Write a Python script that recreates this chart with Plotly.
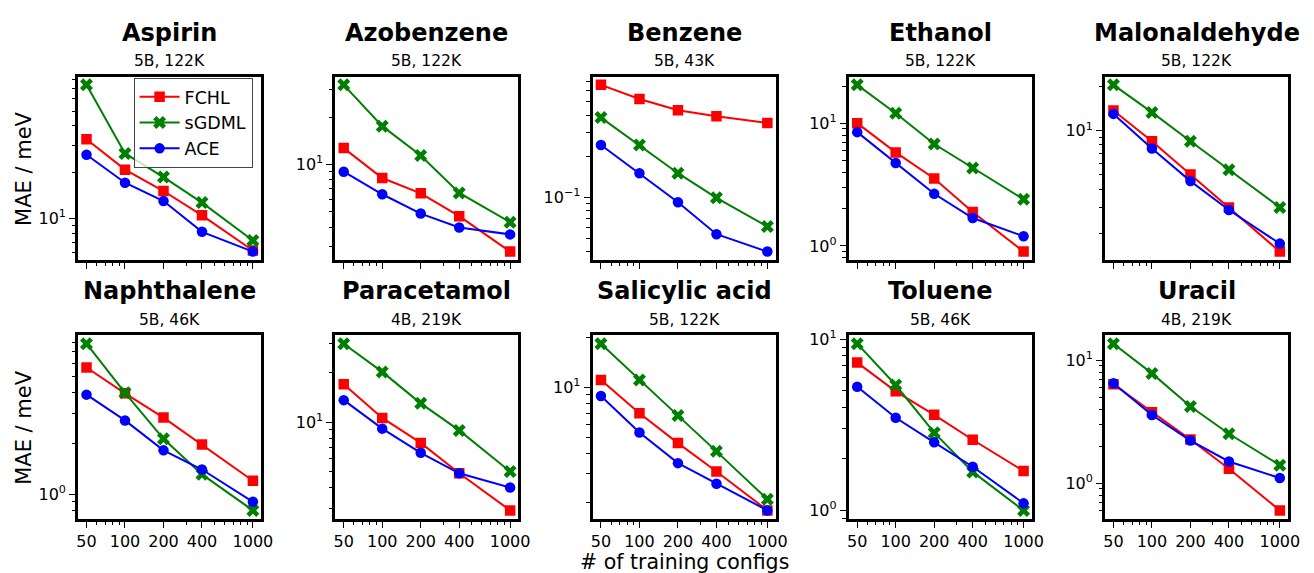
import numpy as np
import plotly.graph_objects as go

# ---------------- data ----------------
n_train = [50, 100, 200, 400, 1000]
x_tick_labels = ["50", "100", "200", "400", "1000"]

molecules = ["Aspirin", "Azobenzene", "Benzene", "Ethanol", "Malonaldehyde",
             "Naphthalene", "Paracetamol", "Salicylic acid", "Toluene", "Uracil"]
subtitles = ["5B, 122K", "5B, 122K", "5B, 43K", "5B, 122K", "5B, 122K",
             "5B, 46K", "4B, 219K", "5B, 122K", "5B, 46K", "4B, 219K"]

fchl_mae = [
    [32.8, 20.8, 15.1, 10.5, 6.2],
    [12.7, 8.2, 6.56, 4.7, 2.8],
    [0.665, 0.524, 0.433, 0.392, 0.35],
    [10.0, 5.78, 3.54, 1.89, 0.9],
    [13.7, 8.47, 5.03, 2.99, 1.5],
    [5.65, 3.97, 2.85, 1.97, 1.2],
    [17.0, 10.6, 7.47, 4.88, 2.9],
    [11.1, 6.97, 4.6, 3.1, 1.8],
    [7.32, 4.97, 3.62, 2.59, 1.7],
    [6.36, 3.76, 2.26, 1.31, 0.6],
]
sgdml_mae = [
    [74.0, 26.5, 18.6, 12.7, 7.2],
    [32.0, 17.5, 11.4, 6.6, 4.3],
    [0.383, 0.241, 0.150, 0.099, 0.061],
    [20.5, 12.05, 6.76, 4.32, 2.4],
    [20.5, 13.3, 8.47, 5.41, 3.0],
    [7.83, 4.0, 2.13, 1.31, 0.8],
    [30.0, 20.2, 13.0, 8.9, 5.0],
    [18.4, 11.1, 6.75, 4.1, 2.1],
    [9.44, 5.41, 2.85, 1.68, 1.0],
    [13.6, 7.8, 4.2, 2.52, 1.4],
]
ace_mae = [
    [26.0, 17.1, 13.0, 8.2, 6.1],
    [9.0, 6.47, 4.88, 3.98, 3.6],
    [0.241, 0.150, 0.092, 0.0536, 0.04],
    [8.45, 4.74, 2.66, 1.69, 1.2],
    [13.0, 7.55, 4.53, 2.88, 1.7],
    [3.90, 2.74, 1.82, 1.40, 0.9],
    [13.6, 9.12, 6.5, 4.88, 4.0],
    [8.87, 5.33, 3.48, 2.61, 1.8],
    [5.29, 3.48, 2.50, 1.80, 1.1],
    [6.48, 3.58, 2.22, 1.50, 1.1],
]

methods = ["FCHL", "sGDML", "ACE"]
method_data = [fchl_mae, sgdml_mae, ace_mae]
method_colors = ["#ff0000", "#008000", "#0000ff"]
method_symbols = ["square", "x", "circle"]

# ---------------- layout geometry ----------------
W, H = 1314, 573
FONT = "DejaVu Sans"
col_x0 = [77, 337, 597, 856, 1115]
plot_w = 185
row_y0 = [70.5, 333]
plot_h = 186

fig = go.Figure()
layout = dict(
    width=W, height=H,
    margin=dict(l=0, r=0, t=0, b=0),
    paper_bgcolor="white", plot_bgcolor="white",
    font=dict(family=FONT, color="black", size=16),
    showlegend=True,
)

def log_range(vals):
    lo, hi = np.log10(min(vals)), np.log10(max(vals))
    m = 0.05 * (hi - lo)
    return [lo - m, hi + m]

x_minor = [60, 70, 80, 90, 300, 500, 600, 700, 800, 900]
y_minor = [k * 10.0 ** e for e in range(-3, 3) for k in range(2, 10)]
y_major = [10.0 ** e for e in range(-3, 3)]

def sup_label(e):
    s = str(e).replace("-", "\u2212")
    return f"10<sup>{s}</sup>"

annotations = []
for i, mol in enumerate(molecules):
    r, c = divmod(i, 5)
    idx = "" if i == 0 else str(i + 1)
    xa, ya = "x" + idx, "y" + idx
    x0 = col_x0[c]
    y0 = row_y0[r]
    for m, (name, data, color, sym) in enumerate(zip(methods, method_data, method_colors, method_symbols)):
        fig.add_trace(go.Scatter(
            x=n_train, y=data[i], mode="lines+markers", name=name,
            xaxis=xa, yaxis=ya, showlegend=(i == 0),
            line=dict(color=color, width=2),
            marker=dict(symbol=sym, size=10.5 if sym != "x" else 11.5, color=color,
                        line=dict(width=0)),
        ))
    all_vals = fchl_mae[i] + sgdml_mae[i] + ace_mae[i]
    yr = log_range(all_vals)
    xr = log_range(n_train)
    common = dict(showline=True, linewidth=3, linecolor="black", mirror=True,
                  showgrid=False, zeroline=False, ticks="outside",
                  tickcolor="black", tickwidth=1.2, ticklen=6,
                  tickfont=dict(family=FONT, size=16, color="black"))
    layout["xaxis" + idx] = dict(
        type="log", range=xr, anchor=ya,
        domain=[x0 / W, (x0 + plot_w) / W],
        tickmode="array", tickvals=n_train, ticktext=x_tick_labels,
        showticklabels=(r == 1),
        minor=dict(tickmode="array", tickvals=x_minor, ticks="outside",
                   ticklen=3.5, tickwidth=1, tickcolor="black"),
        **common,
    )
    layout["yaxis" + idx] = dict(
        type="log", range=yr, anchor=xa,
        domain=[1 - (y0 + plot_h) / H, 1 - y0 / H],
        tickmode="array", tickvals=y_major,
        ticktext=[sup_label(e) for e in range(-3, 3)],
        minor=dict(tickmode="array", tickvals=y_minor, ticks="outside",
                   ticklen=3.5, tickwidth=1, tickcolor="black"),
        **common,
    )
    cx = (x0 + plot_w / 2) / W
    title_y = [26, 288][r]
    sub_y = [55, 317][r]
    annotations.append(dict(text=f"<b>{mol}</b>", x=cx, y=1 - title_y / H,
                            xref="paper", yref="paper", showarrow=False,
                            xanchor="center", yanchor="middle",
                            font=dict(family=FONT, size=24, color="black")))
    annotations.append(dict(text=subtitles[i], x=cx, y=1 - sub_y / H,
                            xref="paper", yref="paper", showarrow=False,
                            xanchor="center", yanchor="middle",
                            font=dict(family=FONT, size=15.5, color="black")))

for r in range(2):
    annotations.append(dict(text="MAE / meV", x=22 / W,
                            y=1 - (row_y0[r] + plot_h / 2) / H,
                            xref="paper", yref="paper", showarrow=False,
                            textangle=-90, xanchor="center", yanchor="middle",
                            font=dict(family=FONT, size=21, color="black")))

annotations.append(dict(text="# of training configs",
                        x=(col_x0[2] + plot_w / 2) / W, y=1 - 563 / H,
                        xref="paper", yref="paper", showarrow=False,
                        xanchor="center", yanchor="middle",
                        font=dict(family=FONT, size=20.5, color="black")))

layout["annotations"] = annotations
layout["legend"] = dict(
    x=133 / W, y=1 - 72 / H, xanchor="left", yanchor="top",
    bgcolor="rgba(255,255,255,0.8)", bordercolor="#444444", borderwidth=1,
    font=dict(family=FONT, size=17.5, color="black"),
    tracegroupgap=0, itemwidth=40,
)
fig.update_layout(**layout)
fig.write_html("out.html")
